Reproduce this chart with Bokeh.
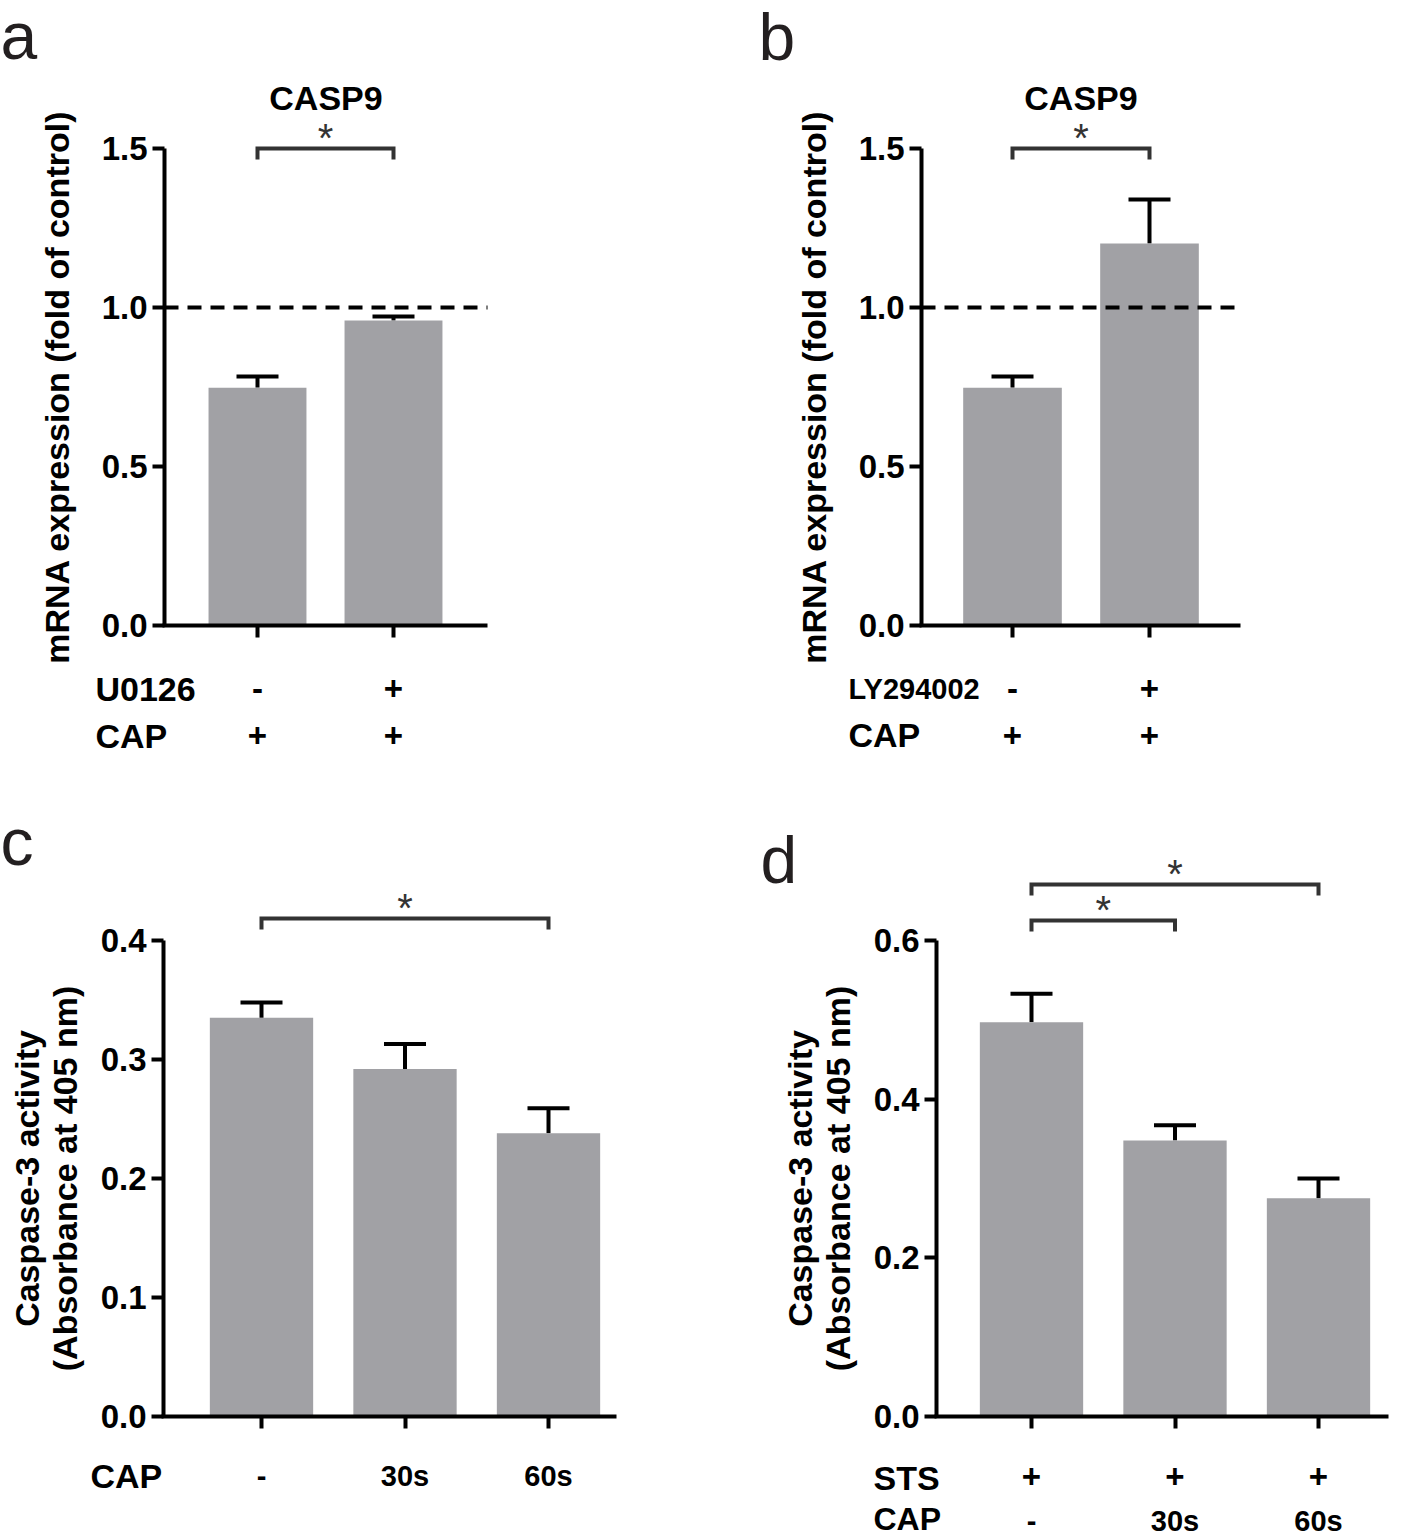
from bokeh.plotting import figure
from bokeh.models import (Range1d, LinearAxis, FixedTicker, PrintfTickFormatter, Whisker,
                          TeeHead, ColumnDataSource)
from bokeh.layouts import gridplot
from bokeh.embed import file_html
from bokeh.resources import INLINE
from bokeh.core.properties import value

FONT = "Liberation Sans"

# ---------------- data ----------------
# panel a
a_title = "CASP9"
a_ylabel = "mRNA expression (fold of control)"
a_row_names = ["U0126", "CAP"]
a_row1 = ["-", "+"]
a_row2 = ["+", "+"]
a_mean = [0.748, 0.959]
a_err = [0.035, 0.013]
a_yticks = [0.0, 0.5, 1.0, 1.5]
a_sig = [(0, 1, "*")]

# panel b
b_title = "CASP9"
b_ylabel = "mRNA expression (fold of control)"
b_row_names = ["LY294002", "CAP"]
b_row1 = ["-", "+"]
b_row2 = ["+", "+"]
b_mean = [0.748, 1.201]
b_err = [0.035, 0.139]
b_yticks = [0.0, 0.5, 1.0, 1.5]
b_sig = [(0, 1, "*")]

# panel c
c_ylabel = "Caspase-3 activity\n(Absorbance at 405 nm)"
c_row_names = ["CAP"]
c_row1 = ["-", "30s", "60s"]
c_mean = [0.335, 0.292, 0.238]
c_err = [0.013, 0.021, 0.021]
c_yticks = [0.0, 0.1, 0.2, 0.3, 0.4]
c_sig = [(0, 2, "*")]

# panel d
d_ylabel = "Caspase-3 activity\n(Absorbance at 405 nm)"
d_row_names = ["STS", "CAP"]
d_row1 = ["+", "+", "+"]
d_row2 = ["-", "30s", "60s"]
d_mean = [0.497, 0.348, 0.275]
d_err = [0.036, 0.019, 0.025]
d_yticks = [0.0, 0.2, 0.4, 0.6]
d_sig = [(0, 1, "*"), (0, 2, "*")]

reference_level = 1.0  # dashed control line in a and b

# ---------------- styles ----------------
BAR = "#a1a1a5"
BRACKET = "#333333"
TICK_FS = "33px"
SIGN_FS = "33px"
NAME_FS = "34px"
SMALL_FS = "29px"
YLAB_FS = "34px"


def build(rect, xcal, ycal, axis_px, mean, err, yticks, ylabel, ylabel_standoff, rows,
          sig, sig_px, title=None, title_px=None, letter=None, letter_pos=None,
          dashed=None):
    L, T, R, B = rect
    (xv1, xp1), (xv2, xp2) = xcal
    sx = (xp2 - xp1) / (xv2 - xv1)
    (yv1, yp1), (yv2, yp2) = ycal
    sy = (yp2 - yp1) / (yv2 - yv1)

    def X(px):
        return xv1 + (px - xp1) / sx

    def Y(py):
        return yv1 + (py - yp1) / sy

    p = figure(frame_width=R - L, frame_height=B - T, min_border=0,
               x_range=Range1d(X(L), X(R)), y_range=Range1d(Y(B), Y(T)),
               output_backend="svg", toolbar_location=None, tools="")
    p.title.visible = False
    p.outline_line_color = None
    p.xgrid.visible = False
    p.ygrid.visible = False
    p.background_fill_color = "white"
    p.border_fill_color = "white"

    ax_left, ax_right = axis_px
    xs = [i + 1 for i in range(len(mean))]
    upper = [m + e for m, e in zip(mean, err)]
    src = ColumnDataSource(dict(x=xs, top=mean, upper=upper))
    p.vbar(x="x", top="top", width=0.72, source=src, fill_color=BAR, line_color=None)
    p.add_layout(Whisker(source=src, base="x", lower="top", upper="upper",
                         line_width=4, line_color="black",
                         upper_head=TeeHead(size=42, line_width=4, line_color="black"),
                         lower_head=None))
    if dashed is not None:
        p.line([X(ax_left), X(ax_right)], [dashed, dashed], line_color="black",
               line_width=4, line_dash="14 9")

    # y axis
    ya = p.yaxis[0]
    ya.fixed_location = X(ax_left)
    ya.ticker = FixedTicker(ticks=yticks)
    ya.formatter = PrintfTickFormatter(format="%.1f")
    ya.bounds = (yticks[0], yticks[-1])
    ya.axis_line_width = 4
    ya.major_tick_line_width = 4
    ya.major_tick_out = 12
    ya.major_tick_in = 0
    ya.minor_tick_line_color = None
    ya.major_label_text_font = FONT
    ya.major_label_text_font_style = "bold"
    ya.major_label_text_font_size = TICK_FS
    ya.major_label_text_color = "black"
    ya.major_label_standoff = 5
    ya.axis_label = ylabel
    ya.axis_label_text_font = FONT
    ya.axis_label_text_font_style = "bold"
    ya.axis_label_text_font_size = YLAB_FS
    ya.axis_label_text_color = "black"
    ya.axis_label_text_line_height = 1.0
    ya.axis_label_standoff = ylabel_standoff

    # x axes: one per row of condition labels
    for k, (name, labels, name_fs, fs, standoff, name_px) in enumerate(rows):
        if k == 0:
            xa = p.xaxis[0]
            xa.axis_line_width = 4
            xa.major_tick_line_width = 4
            xa.major_tick_out = 12
        else:
            xa = LinearAxis()
            xa.axis_line_color = None
            xa.major_tick_line_color = None
            xa.major_tick_out = 0
            p.add_layout(xa, "below")
        xa.fixed_location = 0
        xa.bounds = (X(ax_left - 2), X(ax_right))
        xa.ticker = FixedTicker(ticks=xs)
        xa.major_label_overrides = {x: t for x, t in zip(xs, labels)}
        xa.major_tick_in = 0
        xa.minor_tick_line_color = None
        xa.major_label_text_font = FONT
        xa.major_label_text_font_style = "bold"
        xa.major_label_text_font_size = fs
        xa.major_label_text_color = "black"
        xa.major_label_standoff = standoff
        nx, ny = name_px
        p.text(x=[X(nx)], y=[Y(ny)], text=[name], text_font=value(FONT),
               text_font_style="bold", text_font_size=name_fs, text_color="black",
               text_align="left", text_baseline="middle")

    # significance brackets
    tip = 11
    for (i, j, star), by in zip(sig, sig_px):
        x1, x2 = xs[i], xs[j]
        p.line([x1, x1, x2, x2], [Y(by + tip), Y(by), Y(by), Y(by + tip)],
               line_color=BRACKET, line_width=4, line_join="miter")
        p.text(x=[(x1 + x2) / 2], y=[Y(by - 11)], text=[star], text_font=value(FONT),
               text_font_size="40px", text_color=BRACKET, text_align="center",
               text_baseline="middle")

    if title is not None:
        p.text(x=[(X(ax_left) + X(ax_right)) / 2], y=[Y(title_px)], text=[title],
               text_font=value(FONT), text_font_style="bold", text_font_size="34px",
               text_color="black", text_align="center", text_baseline="middle")

    if letter is not None:
        lx, ly = letter_pos
        p.text(x=[X(lx)], y=[Y(ly - 25)], text=[letter], text_font=value(FONT),
               text_font_size="66px", text_color="#231f20",
               text_align="left", text_baseline="middle")
    return p


pa = build((0, 0, 750, 790), ((1, 257), (2, 393)), ((0, 625), (1.5, 148)), (164, 487),
           a_mean, a_err, a_yticks, a_ylabel, 23,
           [(a_row_names[0], a_row1, NAME_FS, SIGN_FS, 39, (95, 688)),
            (a_row_names[1], a_row2, NAME_FS, SIGN_FS, 98, (95, 735))],
           a_sig, [148], title=a_title, title_px=97, letter="a", letter_pos=(0, 60),
           dashed=reference_level)
pb = build((750, 0, 1415, 790), ((1, 1012), (2, 1149)), ((0, 625), (1.5, 148)), (921, 1240),
           b_mean, b_err, b_yticks, b_ylabel, 23,
           [(b_row_names[0], b_row1, SMALL_FS, SIGN_FS, 39, (848, 688)),
            (b_row_names[1], b_row2, NAME_FS, SIGN_FS, 98, (848, 734))],
           b_sig, [148], title=b_title, title_px=97, letter="b", letter_pos=(758, 61),
           dashed=reference_level)
pc = build((0, 790, 750, 1538), ((1, 261), (3, 548)), ((0, 1416), (0.4, 940)), (163, 616),
           c_mean, c_err, c_yticks, c_ylabel, 14,
           [(c_row_names[0], c_row1, NAME_FS, SMALL_FS, 31, (90, 1475))],
           c_sig, [918], letter="c", letter_pos=(0, 866))
pd_ = build((750, 790, 1415, 1538), ((1, 1031), (3, 1318)), ((0, 1416), (0.6, 940)),
            (936, 1388), d_mean, d_err, d_yticks, d_ylabel, 14,
            [(d_row_names[0], d_row1, NAME_FS, SIGN_FS, 36, (873, 1477)),
             (d_row_names[1], d_row2, "32px", SMALL_FS, 88, (873, 1518))],
            d_sig, [920, 884], letter="d", letter_pos=(760, 884))

grid = gridplot([[pa, pb], [pc, pd_]], toolbar_location=None)
open("out.html", "w").write(file_html(grid, INLINE))
